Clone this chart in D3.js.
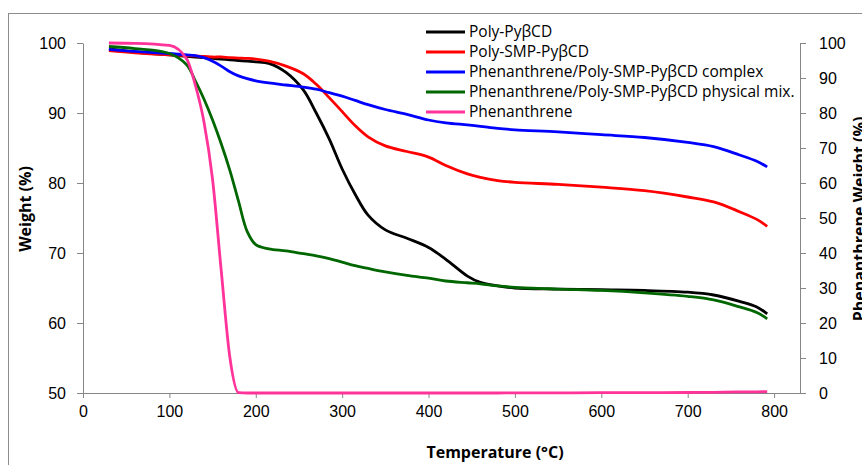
<!DOCTYPE html>
<html>
<head>
<meta charset="utf-8">
<script src="https://cdn.jsdelivr.net/npm/d3@7"></script>
<style>
	body { margin: 0; background: #fff; }
	svg { font-family: "Open Sans", "Liberation Sans", sans-serif; }
	.tick text { font-size: 16px; fill: #000; }
	.axis-title { font-size: 16px; font-weight: bold; fill: #000; }
	.legend-labels { font-size: 15.5px; fill: #000; }
</style>
</head>
<body>
<svg id="viz" width="862" height="465"></svg>
<script>

// temperatures (°C) shared by every series
let temperature = [30, 60, 100, 120, 130, 140, 150, 160, 170, 180, 190, 200, 215, 235, 255, 270,
	285, 300, 315, 330, 350, 375, 400, 420, 445, 460, 480, 500, 550, 600, 650, 700, 730, 760, 780, 792];

// weight (%) on the left axis
let polyPy = [99.2, 98.7, 98.3, 98.1, 98.0, 97.9, 97.8, 97.7, 97.6, 97.5, 97.4, 97.3, 97.1, 95.8, 93.3, 90.0,
	86.3, 82.0, 78.4, 75.4, 73.3, 72.1, 70.8, 69.1, 66.7, 65.8, 65.3, 65.0, 64.85, 64.75, 64.65, 64.4, 64.0, 63.1, 62.3, 61.3];

let polySmp = [98.9, 98.6, 98.3, 98.2, 98.15, 98.1, 98.0, 98.0, 97.9, 97.85, 97.8, 97.7, 97.4, 96.7, 95.6, 94.1,
	92.2, 90.2, 88.2, 86.6, 85.3, 84.5, 83.7, 82.5, 81.3, 80.8, 80.35, 80.1, 79.8, 79.4, 78.9, 78.0, 77.3, 75.9, 74.8, 73.8];

let complex = [99.1, 98.8, 98.5, 98.3, 98.2, 97.9, 97.4, 96.7, 95.9, 95.3, 94.9, 94.6, 94.3, 94.0, 93.7, 93.4,
	92.9, 92.4, 91.8, 91.2, 90.5, 89.8, 89.0, 88.6, 88.3, 88.1, 87.8, 87.6, 87.3, 86.9, 86.5, 85.8, 85.2, 84.0, 83.1, 82.3];

let physMix = [99.5, 99.2, 98.5, 96.9, 94.6, 92.0, 89.0, 85.6, 81.8, 77.4, 73.1, 71.2, 70.6, 70.3, 69.9, 69.6,
	69.2, 68.7, 68.2, 67.8, 67.3, 66.8, 66.4, 66.0, 65.75, 65.6, 65.3, 65.1, 64.85, 64.65, 64.3, 63.8, 63.3, 62.3, 61.5, 60.6];

// phenanthrene weight (%) on the right axis
let phenanthrene = [100, 99.9, 99.3, 95.4, 88.0, 77.5, 61.0, 35.0, 10.2, 0.1, 0, 0, 0, 0, 0, 0,
	0, 0, 0, 0, 0, 0, 0, 0, 0, 0, 0, 0.05, 0.05, 0.1, 0.1, 0.15, 0.2, 0.3, 0.35, 0.4];

let seriesNames = ["Poly-PyβCD", "Poly-SMP-PyβCD", "Phenanthrene/Poly-SMP-PyβCD complex",
	"Phenanthrene/Poly-SMP-PyβCD physical mix.", "Phenanthrene"];
let seriesColors = ["#000000", "#ff0000", "#0000ff", "#006600", "#ff3399"];

let xTicks = [0, 100, 200, 300, 400, 500, 600, 700, 800];
let leftTicks = [50, 60, 70, 80, 90, 100];
let rightTicks = [0, 10, 20, 30, 40, 50, 60, 70, 80, 90, 100];


let drawEverything = function() {

	const axisColor = "#868686";

	let svg = d3.select("body").select("svg#viz");

	// chart frame
	svg.append("rect")
		.attr("x", 8.5)
		.attr("y", 13.5)
		.attr("width", 900)
		.attr("height", 500)
		.attr("fill", "none")
		.attr("stroke", "#8c8c8c");

	// scales (pixel ranges are the plot area)
	let xScale = d3.scaleLinear().domain([0, 830]).range([83, 800]);
	let yLeft = d3.scaleLinear().domain([50, 100]).range([393, 43]);
	let yRight = d3.scaleLinear().domain([0, 100]).range([393, 43]);

	// x axis
	let xAxis = d3.axisBottom(xScale).tickValues(xTicks).tickSize(5).tickSizeOuter(0).tickPadding(8);
	let xGroup = svg.append("g").attr("id", "x-axis")
		.attr("transform", "translate(0,393)")
		.call(xAxis);
	xGroup.select(".domain").attr("d", "M83,0.5H806");

	// left axis
	let yAxis = d3.axisLeft(yLeft).tickValues(leftTicks).tickSize(6).tickSizeOuter(0).tickPadding(11);
	svg.append("g").attr("id", "y-axis")
		.attr("transform", "translate(83,0)")
		.call(yAxis);

	// right axis
	let y2Axis = d3.axisRight(yRight).tickValues(rightTicks).tickSize(6).tickSizeOuter(0).tickPadding(13);
	svg.append("g").attr("id", "y2-axis")
		.attr("transform", "translate(800,0)")
		.call(y2Axis);

	svg.selectAll(".domain, .tick line").attr("stroke", axisColor);

	// axis titles
	svg.append("text")
		.attr("class", "axis-title")
		.attr("x", 495)
		.attr("y", 458)
		.attr("text-anchor", "middle")
		.text("Temperature (°C)");

	svg.append("text")
		.attr("class", "axis-title")
		.attr("text-anchor", "middle")
		.attr("transform", "translate(31,209) rotate(-90)")
		.text("Weight (%)");

	// cut by the right edge, like the original
	svg.append("text")
		.attr("class", "axis-title")
		.attr("text-anchor", "middle")
		.attr("transform", "translate(865,219) rotate(-90)")
		.text("Phenanthrene Weight (%)");

	// lines
	let allSeries = [polyPy, polySmp, complex, physMix, phenanthrene];
	let plot = svg.append("g").attr("id", "plot");

	allSeries.forEach(function(values, i) {
		let yScale = (i == 4) ? yRight : yLeft;
		// monotone for the phenanthrene drop so it doesn't overshoot below 0
		let curve = (i == 4) ? d3.curveMonotoneX : d3.curveCatmullRom.alpha(0.5);
		let line = d3.line()
			.curve(curve)
			.x((d, j) => xScale(temperature[j]))
			.y(d => yScale(d));

		plot.append("path")
			.datum(values)
			.attr("fill", "none")
			.attr("stroke", seriesColors[i])
			.attr("stroke-width", 2.8)
			.attr("d", line);
	});

	// legend
	let legend = svg.append("g").attr("id", "legend");

	legend.selectAll("line")
		.data(seriesNames)
		.enter().append("line")
		.attr("x1", 426)
		.attr("x2", 465)
		.attr("y1", (d, i) => 32 + i * 20)
		.attr("y2", (d, i) => 32 + i * 20)
		.attr("stroke", (d, i) => seriesColors[i])
		.attr("stroke-width", 2.8);

	legend.selectAll("text")
		.data(seriesNames)
		.enter().append("text")
		.attr("class", "legend-labels")
		.attr("x", 469)
		.attr("y", (d, i) => 32 + i * 20)
		.attr("dy", "0.35em")
		.text(d => d);
};

drawEverything();
</script>
</body>
</html>
